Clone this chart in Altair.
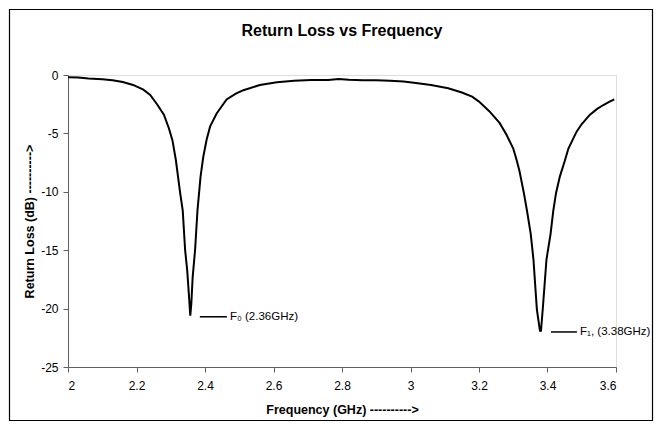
import altair as alt
import pandas as pd

# Return loss curve
freq = [2.00, 2.03, 2.06, 2.10, 2.13, 2.16, 2.19, 2.22, 2.24, 2.26, 2.28, 2.295, 2.305,
        2.315, 2.327, 2.335, 2.342, 2.348, 2.353, 2.357, 2.360, 2.364, 2.371, 2.378,
        2.387, 2.395, 2.405, 2.415, 2.434, 2.463, 2.49, 2.512, 2.56, 2.61, 2.66, 2.71,
        2.76, 2.79, 2.82, 2.86, 2.90, 2.94, 2.98, 3.01, 3.06, 3.11, 3.15, 3.18, 3.20,
        3.23, 3.26, 3.28, 3.30, 3.31, 3.318, 3.331, 3.34, 3.351, 3.359, 3.369, 3.378,
        3.381, 3.386, 3.397, 3.409, 3.417, 3.425, 3.436, 3.451, 3.461, 3.485, 3.50,
        3.524, 3.545, 3.563, 3.58, 3.595]
rl = [-0.20, -0.22, -0.30, -0.36, -0.45, -0.60, -0.85, -1.25, -1.70, -2.50, -3.40, -4.60, -5.60,
      -7.3, -10.0, -11.6, -15.0, -16.7, -18.8, -20.6, -19.6, -17.3, -15.0, -11.6,
      -8.7, -7.0, -5.5, -4.4, -3.3, -2.1, -1.6, -1.3, -0.86, -0.63, -0.49, -0.43,
      -0.43, -0.34, -0.40, -0.45, -0.45, -0.49, -0.55, -0.66, -0.86, -1.14, -1.5, -1.85, -2.28,
      -3.1, -4.1, -5.1, -6.3, -7.3, -8.2, -10.1, -11.6, -13.6, -15.8, -20.1, -21.9,
      -21.9, -20.1, -15.8, -13.6, -11.6, -10.1, -8.7, -7.3, -6.3, -4.85, -4.2,
      -3.4, -2.9, -2.57, -2.3, -2.08]

# Annotations
ann_x1 = [2.385, 3.410]
ann_x2 = [2.464, 3.486]
ann_y = [-20.7, -22.0]
ann_text_x = [2.473, 3.495]
ann_text = ["F\u2080 (2.36GHz)", "F\u2081, (3.38GHz)"]

x_ticks = [2, 2.2, 2.4, 2.6, 2.8, 3, 3.2, 3.4, 3.6]
y_ticks = [0, -5, -10, -15, -20, -25]

FONT = "Liberation Sans"
W, H = 548, 292

df = pd.DataFrame({"f": freq, "rl": rl})
ann = pd.DataFrame({"x1": ann_x1, "x2": ann_x2, "y": ann_y, "tx": ann_text_x, "label": ann_text})

xs = alt.Scale(domain=[2, 3.6], nice=False, zero=False)
ys = alt.Scale(domain=[-25, 0], nice=False, zero=False)

line = alt.Chart(df).mark_line(color="black", strokeWidth=2).encode(
    x=alt.X("f:Q", scale=xs, axis=alt.Axis(
        values=x_ticks, labelExpr="'' + datum.value", title="Frequency (GHz) ---------->",
        grid=False, tickSize=5, labelPadding=8, labelFontSize=12, labelFont=FONT,
        titleFont=FONT, titleFontSize=12.5, titleFontWeight="bold",
        titleY=42, titleBaseline="middle",
        domainColor="#606060", tickColor="#606060", labelColor="black", titleColor="black")),
    y=alt.Y("rl:Q", scale=ys, axis=alt.Axis(
        values=y_ticks, labelExpr="'' + datum.value", title="Return Loss (dB) ---------->",
        grid=False, tickSize=5, labelPadding=5, labelFontSize=12, labelFont=FONT,
        titleFont=FONT, titleFontSize=12.5, titleFontWeight="bold",
        titleX=-39, titleBaseline="middle",
        domainColor="#606060", tickColor="#606060", labelColor="black", titleColor="black")),
    order="f:Q",
)

rules = alt.Chart(ann).mark_rule(color="black", strokeWidth=1.5).encode(
    x=alt.X("x1:Q", scale=xs), x2="x2:Q", y=alt.Y("y:Q", scale=ys))

texts = alt.Chart(ann).mark_text(align="left", baseline="middle", font=FONT, fontSize=11.5,
                                 color="black").encode(
    x=alt.X("tx:Q", scale=xs), y=alt.Y("y:Q", scale=ys), text="label:N")

frame = alt.Chart(pd.DataFrame({"a": [0]})).mark_rect(
    fill=None, stroke="black", strokeWidth=1.2).encode(
    x=alt.value(-58.5), x2=alt.value(W + 36.5), y=alt.value(-65.5), y2=alt.value(H + 53.5))

chart = alt.layer(frame, line, rules, texts).properties(
    width=W, height=H,
    autosize=alt.AutoSizeParams(type="none"),
    padding={"left": 60, "top": 67, "right": 38, "bottom": 56},
    title=alt.TitleParams("Return Loss vs Frequency", font=FONT, fontSize=16,
                          fontWeight="bold", anchor="middle", frame="group",
                          offset=-30, color="black"),
).configure_view(stroke=None).configure(background="white")

chart.save("out.html", embed_options={"renderer": "svg", "actions": False})
